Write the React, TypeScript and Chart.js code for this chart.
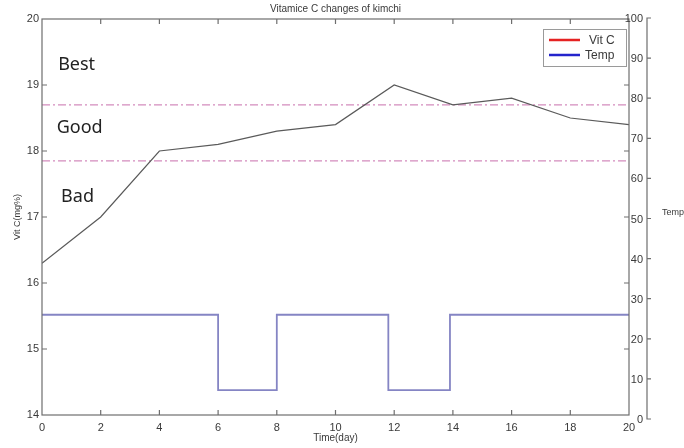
import React, { useEffect, useRef } from 'react';
import { Chart, registerables } from 'chart.js';

Chart.register(...registerables);

// ---- data ----
const days = [0, 2, 4, 6, 8, 10, 12, 14, 16, 18, 20];
const vitC = [16.3, 17.0, 18.0, 18.1, 18.3, 18.4, 19.0, 18.7, 18.8, 18.5, 18.4];
const tempDays = [0, 6, 8, 11.8, 13.9, 20];
const tempValues = [26, 7.2, 26, 7.2, 26, 26];
const bestLimit = 18.7;
const goodLimit = 17.85;
const xTicks = [0, 2, 4, 6, 8, 10, 12, 14, 16, 18, 20];
const vitTicks = [14, 15, 16, 17, 18, 19, 20];
const tempTicks = [0, 10, 20, 30, 40, 50, 60, 70, 80, 90, 100];
const zoneLabels = ['Best', 'Good', 'Bad'];
const zoneDays = [0.55, 0.5, 0.65];
const zoneLevels = [19.3, 18.35, 17.3];
const legendLabels = ['Vit C', 'Temp'];
const legendColors = ['#e52222', '#2424cc'];
const titleText = 'Vitamice C changes of kimchi';

const FONT = '"Liberation Sans", Arial, sans-serif';
const AXIS = '#6e6e6e';
const TEXT = '#3a3a3a';

const extras = {
  id: 'extras',
  afterDraw(chart: any) {
    const { ctx, chartArea: a, scales } = chart;
    const x = scales.x, y = scales.y, y2 = scales.y2;
    ctx.save();
    // frame
    ctx.strokeStyle = AXIS;
    ctx.lineWidth = 1.2;
    ctx.strokeRect(a.left, a.top, a.right - a.left, a.bottom - a.top);
    // inward ticks
    ctx.beginPath();
    xTicks.slice(1, -1).forEach((d) => {
      const px = x.getPixelForValue(d);
      ctx.moveTo(px, a.bottom); ctx.lineTo(px, a.bottom - 5);
      ctx.moveTo(px, a.top); ctx.lineTo(px, a.top + 5);
    });
    vitTicks.slice(1, -1).forEach((v) => {
      const py = y.getPixelForValue(v);
      ctx.moveTo(a.left, py); ctx.lineTo(a.left + 5, py);
      ctx.moveTo(a.right, py); ctx.lineTo(a.right - 5, py);
    });
    ctx.stroke();

    // right temperature axis
    const ax = a.right + 18;
    const p0 = y2.getPixelForValue(tempTicks[0]);
    const p1 = y2.getPixelForValue(tempTicks[tempTicks.length - 1]);
    ctx.beginPath();
    ctx.moveTo(ax + 4, p1); ctx.lineTo(ax, p1); ctx.lineTo(ax, p0); ctx.lineTo(ax + 4, p0);
    tempTicks.slice(1, -1).forEach((v) => {
      const py = y2.getPixelForValue(v);
      ctx.moveTo(ax, py); ctx.lineTo(ax + 4, py);
    });
    ctx.stroke();
    ctx.fillStyle = TEXT;
    ctx.font = `11px ${FONT}`;
    ctx.textAlign = 'right';
    ctx.textBaseline = 'middle';
    tempTicks.forEach((v) => {
      ctx.fillText(String(v), ax - 4, y2.getPixelForValue(v) + 1);
    });
    ctx.font = `9px ${FONT}`;
    ctx.textAlign = 'left';
    ctx.fillText('Temp', ax + 15, (a.top + a.bottom) / 2 - 4);

    // title
    ctx.font = `10px ${FONT}`;
    ctx.textAlign = 'center';
    ctx.fillText(titleText, (a.left + a.right) / 2, 9);

    // zone labels
    ctx.fillStyle = '#222';
    ctx.font = `18px "Noto Sans", sans-serif`;
    ctx.textAlign = 'left';
    zoneLabels.forEach((t, i) => {
      ctx.fillText(t, x.getPixelForValue(zoneDays[i]), y.getPixelForValue(zoneLevels[i]));
    });

    // legend
    const lr = a.right - 3, ll = a.right - 86, lt = a.top + 10, lb = a.top + 47;
    ctx.fillStyle = '#fff';
    ctx.fillRect(ll, lt, lr - ll, lb - lt);
    ctx.strokeStyle = '#9a9a9a';
    ctx.lineWidth = 1;
    ctx.strokeRect(ll + 0.5, lt + 0.5, lr - ll, lb - lt);
    ctx.lineWidth = 2.5;
    const rows = [lt + 11, lt + 26];
    const textX = [ll + 46, ll + 42];
    legendLabels.forEach((t, i) => {
      ctx.strokeStyle = legendColors[i];
      ctx.beginPath();
      ctx.moveTo(ll + 6, rows[i]); ctx.lineTo(ll + 37, rows[i]);
      ctx.stroke();
      ctx.fillStyle = TEXT;
      ctx.font = `12px ${FONT}`;
      ctx.textBaseline = 'middle';
      ctx.fillText(t, textX[i], rows[i] + 1);
    });
    ctx.restore();
  },
};

export default function App() {
  const ref = useRef<HTMLCanvasElement>(null);
  useEffect(() => {
    if (!ref.current) return;
    const chart = new Chart(ref.current, {
      type: 'line',
      data: {
        datasets: [
          {
            label: 'Vit C',
            data: days.map((d, i) => ({ x: d, y: vitC[i] })),
            borderColor: '#5a5a5a',
            borderWidth: 1.2,
            pointRadius: 0,
            yAxisID: 'y',
          },
          {
            label: 'Temp',
            data: tempDays.map((d, i) => ({ x: d, y: tempValues[i] })),
            borderColor: '#8585c4',
            borderWidth: 1.8,
            pointRadius: 0,
            stepped: 'before',
            yAxisID: 'y2',
          },
          {
            label: 'best',
            data: [{ x: xTicks[0], y: bestLimit }, { x: xTicks[xTicks.length - 1], y: bestLimit }],
            borderColor: '#d38cbd',
            borderWidth: 1.3,
            borderDash: [8, 3, 2, 3],
            pointRadius: 0,
            yAxisID: 'y',
          },
          {
            label: 'good',
            data: [{ x: xTicks[0], y: goodLimit }, { x: xTicks[xTicks.length - 1], y: goodLimit }],
            borderColor: '#d38cbd',
            borderWidth: 1.3,
            borderDash: [8, 3, 2, 3],
            pointRadius: 0,
            yAxisID: 'y',
          },
        ],
      },
      options: {
        animation: false,
        responsive: false,
        devicePixelRatio: 1,
        layout: { padding: { top: 19, right: 55, left: 0, bottom: 0 } },
        plugins: { legend: { display: false }, tooltip: { enabled: false }, title: { display: false } },
        scales: {
          x: {
            type: 'linear',
            min: 0,
            max: 20,
            afterBuildTicks: (s: any) => { s.ticks = xTicks.map((v) => ({ value: v })); },
            afterFit: (s: any) => { s.height = 33; },
            grid: { display: false, drawTicks: false },
            border: { display: false },
            ticks: { color: TEXT, font: { size: 11, family: FONT }, padding: 6, maxRotation: 0 },
            title: { display: true, text: 'Time(day)', color: TEXT, font: { size: 10, family: FONT }, padding: { top: 0, bottom: 4 } },
          },
          y: {
            type: 'linear',
            position: 'left',
            min: 14,
            max: 20,
            afterBuildTicks: (s: any) => { s.ticks = vitTicks.map((v) => ({ value: v })); },
            afterFit: (s: any) => { s.width = 42; },
            grid: { display: false, drawTicks: false },
            border: { display: false },
            ticks: { color: TEXT, font: { size: 11, family: FONT }, padding: 3 },
            title: { display: true, text: 'Vit C(mg%)', color: TEXT, font: { size: 9, family: FONT }, padding: { top: 12, bottom: 0 } },
          },
          y2: {
            type: 'linear',
            position: 'right',
            display: false,
            min: 1.0,
            max: 99.75,
          },
        },
      },
      plugins: [extras],
    } as any);
    return () => chart.destroy();
  }, []);
  return (
    <div style={{ position: 'fixed', left: 0, top: 0, width: 684, height: 448, background: '#fff' }}>
      <canvas ref={ref} width={684} height={448} />
    </div>
  );
}
